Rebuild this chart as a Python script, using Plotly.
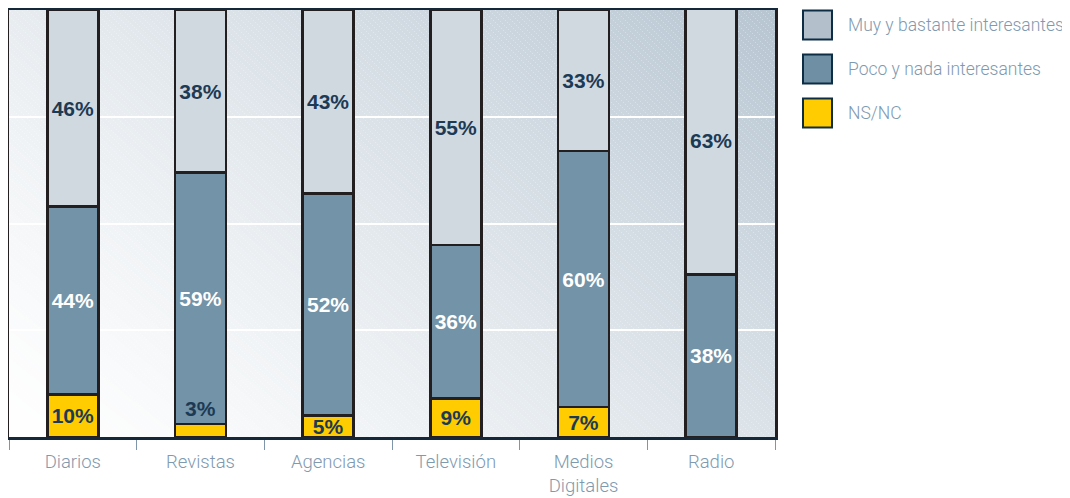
import base64
import struct
import zlib

import numpy as np
import plotly.graph_objects as go

categorias = ["Diarios", "Revistas", "Agencias", "Televisión", "Medios<br>Digitales", "Radio"]
muy = [46, 38, 43, 55, 33, 63]
poco = [44, 59, 52, 36, 60, 38]
nsnc = [10, 3, 5, 9, 7, 0]

nombres = ["Muy y bastante interesantes", "Poco y nada interesantes", "NS/NC"]
colores_barra = ["#d1d9e0", "#7293a8", "#fecc00"]
colores_leyenda = ["#b3c0cc", "#6f8fa5", "#fecc00"]

# la página tiene 8 px de margen, la figura se ajusta a la ventana
OFF = 8
W, H = 1070 - OFF, 498 - OFF
ML, MR, MT, MB = 1, 295, 2, 61
PW, PH = W - ML - MR, H - MT - MB

NAVY = "#1d3a55"
GRIS = "#7f9aaf"
FONT_NUM = "Liberation Sans, Arial, sans-serif"
FONT_TXT = "Roboto, Arial, sans-serif"


def png_uri(a):
    h, w, _ = a.shape
    raw = b"".join(b"\x00" + a[r].tobytes() for r in range(h))

    def chunk(tag, data):
        return (struct.pack(">I", len(data)) + tag + data
                + struct.pack(">I", zlib.crc32(tag + data) & 0xffffffff))

    png = (b"\x89PNG\r\n\x1a\n"
           + chunk(b"IHDR", struct.pack(">IIBBBBB", w, h, 8, 2, 0, 0, 0))
           + chunk(b"IDAT", zlib.compress(raw, 9))
           + chunk(b"IEND", b""))
    return "data:image/png;base64," + base64.b64encode(png).decode()


# fondo degradado con rayado fino
u = np.linspace(0, 1, PW)[None, :]
v = np.linspace(1, 0, PH)[:, None]
t = np.clip((0.7 * u + 0.5 * v) / 1.2, 0, 1) ** 1.3
lo = np.array([255, 255, 255], float)
hi = np.array([184, 198, 210], float)
img = lo + (hi - lo) * t[..., None]
xx, yy = np.meshgrid(np.arange(PW), np.arange(PH))
rayas = ((xx - yy) % 6 == 0) & ((xx + yy) % 4 != 0)
img[rayas] = img[rayas] + (255 - img[rayas]) * 0.3
fondo = png_uri(np.clip(img, 0, 255).astype(np.uint8))


def etiquetas(vals, minimo=4):
    return [f"{x}%" if x >= minimo else "" for x in vals]


fig = go.Figure()
series = [(nsnc, 2, NAVY), (poco, 1, "white"), (muy, 0, NAVY)]
for vals, k, col in series:
    fig.add_trace(go.Bar(
        name=nombres[k], x=categorias, y=vals,
        marker=dict(color=colores_barra[k], line=dict(color="#231f20", width=2.5)),
        text=etiquetas(vals), textposition="inside", insidetextanchor="middle",
        constraintext="none", textangle=0,
        textfont=dict(family=FONT_NUM, size=21, color=col, weight="bold"),
        width=0.4, showlegend=False, hoverinfo="x+y",
    ))

# etiquetas de segmentos demasiado pequeños, encima del segmento
for c, x in zip(categorias, nsnc):
    if 0 < x < 4:
        fig.add_annotation(x=c, y=x, text=f"{x}%", showarrow=False, yanchor="bottom",
                           yshift=2, font=dict(family=FONT_NUM, size=21, color=NAVY, weight="bold"))


# coordenadas de página -> papel
def px_x(p):
    return (p - OFF - ML) / PW


def px_y(p):
    return (H - MB - (p - OFF)) / PH


# leyenda manual con cuadros grandes
for k, nombre in enumerate(nombres):
    cy = 25 + 44 * k
    fig.add_shape(type="rect", xref="paper", yref="paper",
                  x0=px_x(803), x1=px_x(832), y0=px_y(cy + 14.5), y1=px_y(cy - 14.5),
                  fillcolor=colores_leyenda[k], line=dict(color="#0d2d45", width=2))
    fig.add_annotation(xref="paper", yref="paper", x=px_x(846), y=px_y(cy),
                       xanchor="left", yanchor="middle", showarrow=False, text=nombre,
                       font=dict(family=FONT_TXT, size=17.5, color=GRIS, weight=300))

fig.add_layout_image(source=fondo, xref="paper", yref="paper", x=0, y=1,
                     sizex=1, sizey=1, sizing="stretch", layer="below",
                     xanchor="left", yanchor="top")

fig.update_layout(
    width=W, height=H, barmode="stack", bargap=0.6,
    margin=dict(l=ML, r=MR, t=MT, b=MB, autoexpand=False),
    paper_bgcolor="white", plot_bgcolor="rgba(0,0,0,0)",
    xaxis=dict(showline=True, linecolor="#14283a", linewidth=3, mirror=True,
               ticks="outside", tickson="boundaries", ticklen=10, tickwidth=1,
               tickcolor="#7f96aa", showgrid=False, automargin=False,
               ticklabelstandoff=6,
               tickfont=dict(family=FONT_TXT, size=18.5, color=GRIS, weight=300)),
    yaxis=dict(range=[0, 100], dtick=25, showticklabels=False, showgrid=True,
               gridcolor="white", gridwidth=1.5, zeroline=False, automargin=False,
               showline=True, linecolor="#231f20", linewidth=3, mirror=True),
)

fig.write_html("out.html")
